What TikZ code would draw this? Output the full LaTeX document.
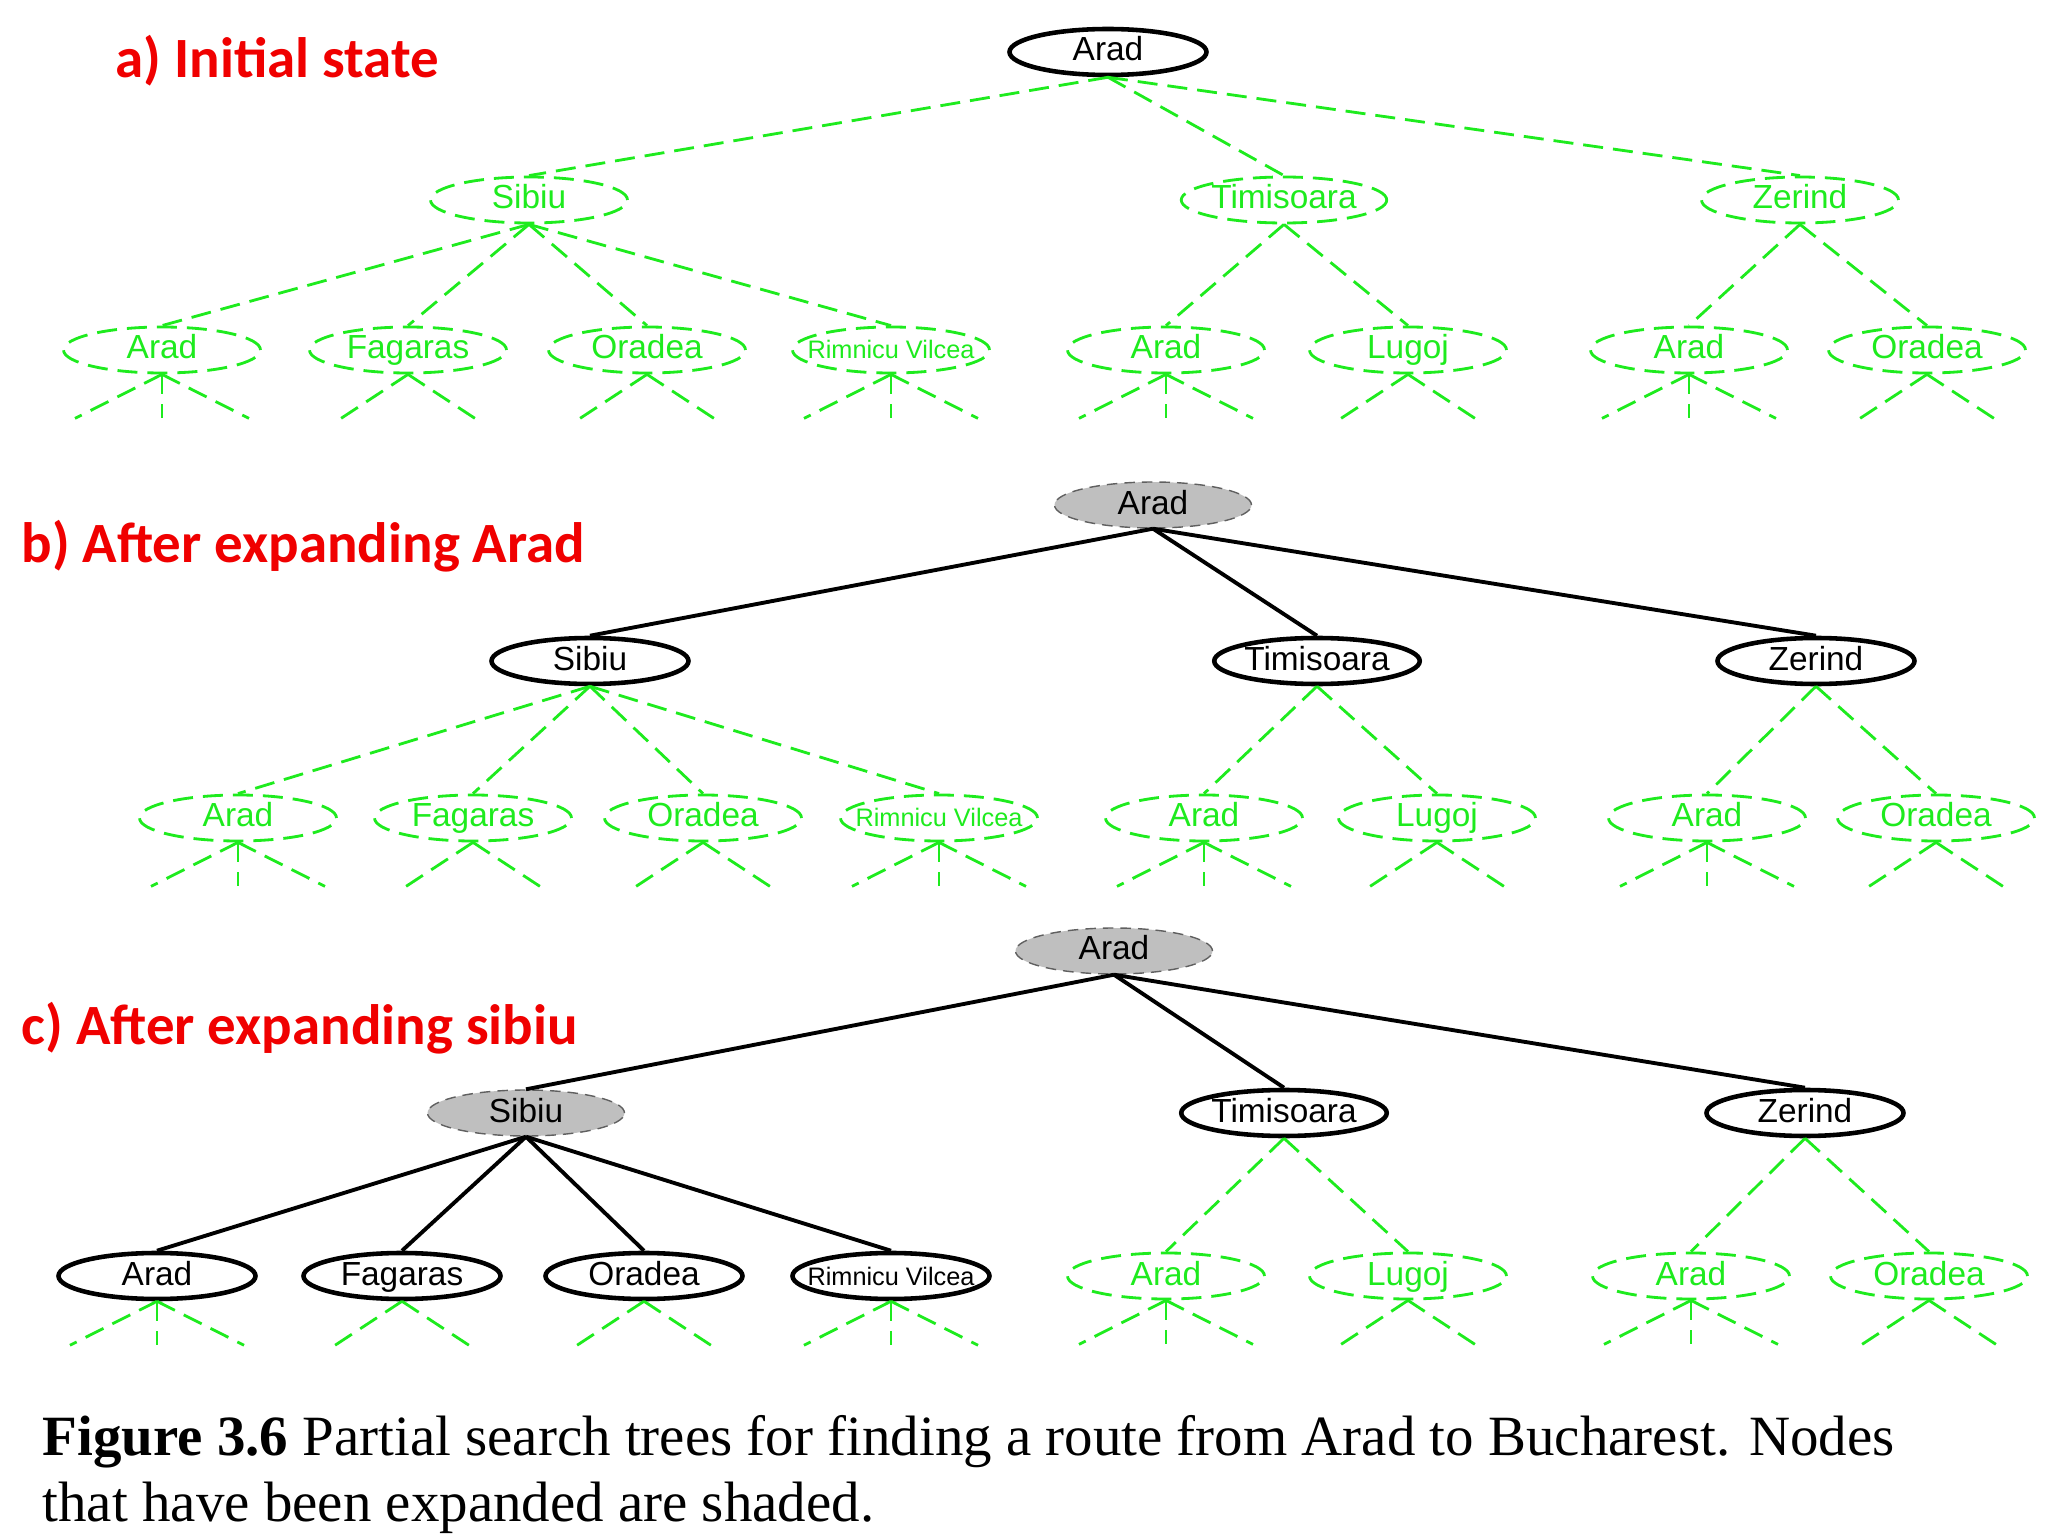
\documentclass[tikz,border=0pt]{standalone}
\usepackage{fontspec}
\setmainfont{Liberation Serif}
\setsansfont{Liberation Sans}
\newfontfamily\titlefont{Carlito}
\usepackage{xcolor}
\usepackage{tikz}
\usetikzlibrary{
    shapes.geometric
}

\definecolor{unseengreen}{RGB}{30,235,30}
\definecolor{titlered}{RGB}{240,0,0}

\begin{document}
\begin{tikzpicture}[
      city/.style={ellipse, minimum width=1.97cm, minimum height=0.46cm, inner sep=0pt, text height=0.24cm, text depth=0.06cm, font=\sffamily\fontsize{9.5}{11}\selectfont},
      expanded/.style={city, draw=gray!75!black, densely dashed, thin, fill=gray!50},
      frontier/.style={city, draw, line width=1.3pt, fill=white},
      unseen/.style={city, draw=unseengreen, text=unseengreen, line width=0.8pt, dash pattern=on 0.2cm off 0.1cm},
      longname/.style={font=\sffamily\fontsize{7.2}{9}\selectfont},
      link/.style={line width=1.1pt},
      unseenlink/.style={draw=unseengreen, line width=0.8pt, dash pattern=on 0.2cm off 0.1cm},
      title/.style={anchor=west, inner sep=0pt, text=titlered, font=\titlefont\bfseries\fontsize{16.2}{19}\selectfont}
    ]
    \fill[white] (0,0) rectangle (20.48,-15.36);
    \useasboundingbox (0,0) rectangle (20.48,-15.36);

    % a) initial state
    \node[title] (atitle) at (1.15,-0.61) {a) Initial state};
    \node[frontier] (aroot) at (11.08,-0.52) {Arad};
    \node[unseen] (asib) at (5.29,-2.00) {Sibiu};
    \node[unseen] (atim) at (12.84,-2.00) {Timisoara};
    \node[unseen] (azer) at (18.00,-2.00) {Zerind};
    \node[unseen] (aar1) at (1.62,-3.50) {Arad};
    \node[unseen] (afag) at (4.08,-3.50) {Fagaras};
    \node[unseen] (aora1) at (6.47,-3.50) {Oradea};
    \node[unseen, longname] (arim) at (8.91,-3.50) {\makebox[1.2cm]{Rimnicu Vilcea}};
    \node[unseen] (aar2) at (11.66,-3.50) {Arad};
    \node[unseen] (alug) at (14.08,-3.50) {Lugoj};
    \node[unseen] (aar3) at (16.89,-3.50) {Arad};
    \node[unseen] (aora2) at (19.27,-3.50) {Oradea};

    \draw[unseenlink] (aroot.south) -- (asib.north);
    \draw[unseenlink] (aroot.south) -- (atim.north);
    \draw[unseenlink] (aroot.south) -- (azer.north);
    \draw[unseenlink] (asib.south) -- (aar1.north);
    \draw[unseenlink] (asib.south) -- (afag.north);
    \draw[unseenlink] (asib.south) -- (aora1.north);
    \draw[unseenlink] (asib.south) -- (arim.north);
    \draw[unseenlink] (atim.south) -- (aar2.north);
    \draw[unseenlink] (atim.south) -- (alug.north);
    \draw[unseenlink] (azer.south) -- (aar3.north);
    \draw[unseenlink] (azer.south) -- (aora2.north);

    % b) after expanding Arad
    \node[title] (btitle) at (0.21,-5.46) {b) After expanding Arad};
    \node[expanded] (broot) at (11.53,-5.05) {Arad};
    \node[frontier] (bsib) at (5.90,-6.61) {Sibiu};
    \node[frontier] (btim) at (13.17,-6.61) {Timisoara};
    \node[frontier] (bzer) at (18.16,-6.61) {Zerind};
    \node[unseen] (bar1) at (2.38,-8.18) {Arad};
    \node[unseen] (bfag) at (4.73,-8.18) {Fagaras};
    \node[unseen] (bora1) at (7.03,-8.18) {Oradea};
    \node[unseen, longname] (brim) at (9.39,-8.18) {\makebox[1.2cm]{Rimnicu Vilcea}};
    \node[unseen] (bar2) at (12.04,-8.18) {Arad};
    \node[unseen] (blug) at (14.37,-8.18) {Lugoj};
    \node[unseen] (bar3) at (17.07,-8.18) {Arad};
    \node[unseen] (bora2) at (19.36,-8.18) {Oradea};

    \draw[link] (broot.south) -- (bsib.north);
    \draw[link] (broot.south) -- (btim.north);
    \draw[link] (broot.south) -- (bzer.north);
    \draw[unseenlink] (bsib.south) -- (bar1.north);
    \draw[unseenlink] (bsib.south) -- (bfag.north);
    \draw[unseenlink] (bsib.south) -- (bora1.north);
    \draw[unseenlink] (bsib.south) -- (brim.north);
    \draw[unseenlink] (btim.south) -- (bar2.north);
    \draw[unseenlink] (btim.south) -- (blug.north);
    \draw[unseenlink] (bzer.south) -- (bar3.north);
    \draw[unseenlink] (bzer.south) -- (bora2.north);

    % c) after expanding Sibiu
    \node[title] (ctitle) at (0.21,-10.28) {c) After expanding sibiu};
    \node[expanded] (croot) at (11.14,-9.51) {Arad};
    \node[expanded] (csib) at (5.26,-11.13) {Sibiu};
    \node[frontier] (ctim) at (12.84,-11.13) {Timisoara};
    \node[frontier] (czer) at (18.05,-11.13) {Zerind};
    \node[frontier] (car1) at (1.57,-12.76) {Arad};
    \node[frontier] (cfag) at (4.02,-12.76) {Fagaras};
    \node[frontier] (cora1) at (6.44,-12.76) {Oradea};
    \node[frontier, longname] (crim) at (8.91,-12.76) {\makebox[1.2cm]{Rimnicu Vilcea}};
    \node[unseen] (car2) at (11.66,-12.76) {Arad};
    \node[unseen] (clug) at (14.08,-12.76) {Lugoj};
    \node[unseen] (car3) at (16.91,-12.76) {Arad};
    \node[unseen] (cora2) at (19.29,-12.76) {Oradea};

    \draw[link] (croot.south) -- (csib.north);
    \draw[link] (croot.south) -- (ctim.north);
    \draw[link] (croot.south) -- (czer.north);
    \draw[link] (csib.south) -- (car1.north);
    \draw[link] (csib.south) -- (cfag.north);
    \draw[link] (csib.south) -- (cora1.north);
    \draw[link] (csib.south) -- (crim.north);
    \draw[unseenlink] (ctim.south) -- (car2.north);
    \draw[unseenlink] (ctim.south) -- (clug.north);
    \draw[unseenlink] (czer.south) -- (car3.north);
    \draw[unseenlink] (czer.south) -- (cora2.north);

    % stubs to the children not yet generated
    \foreach \n in {aar1, arim, aar2, aar3, bar1, brim, bar2, bar3, car1, crim, car2, car3} {
      \coordinate (\n-l) at ([shift={(-0.87,-0.44)}]\n.south);
      \coordinate (\n-m) at ([shift={(0,-0.44)}]\n.south);
      \coordinate (\n-r) at ([shift={(0.87,-0.44)}]\n.south);
      \draw[unseenlink] (\n.south) -- (\n-l);
      \draw[unseenlink] (\n.south) -- (\n-m);
      \draw[unseenlink] (\n.south) -- (\n-r);
    }
    \foreach \n in {afag, aora1, alug, aora2, bfag, bora1, blug, bora2, cfag, cora1, clug, cora2} {
      \coordinate (\n-l) at ([shift={(-0.67,-0.44)}]\n.south);
      \coordinate (\n-r) at ([shift={(0.67,-0.44)}]\n.south);
      \draw[unseenlink] (\n.south) -- (\n-l);
      \draw[unseenlink] (\n.south) -- (\n-r);
    }

    \node[anchor=north west, inner sep=0pt, align=left, font=\fontsize{16.2}{18.7}\selectfont] (caption) at (0.42,-14.15)
      {\textbf{Figure 3.6} Partial search trees for finding a route from Arad to Bucharest. Nodes\\that have been expanded are shaded.};
  \end{tikzpicture}
\end{document}
